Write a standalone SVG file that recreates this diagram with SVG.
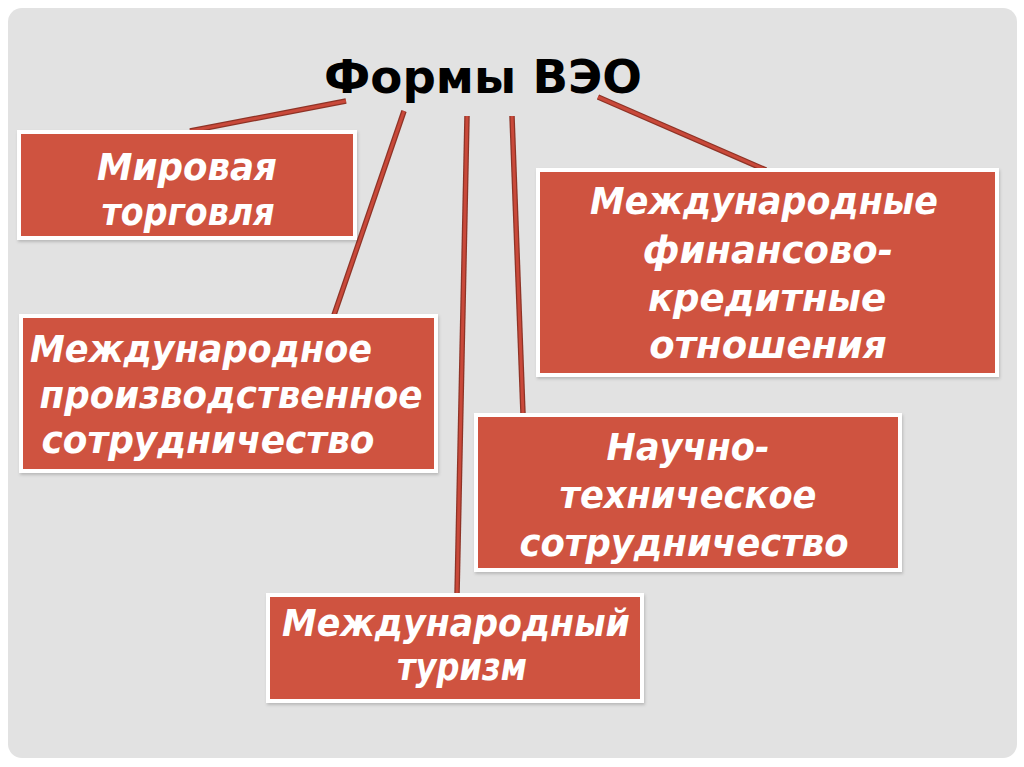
<svg xmlns="http://www.w3.org/2000/svg" width="1024" height="767" viewBox="0 0 1024 767">
<defs>
<style>
.box{fill:#cf533f;stroke:#ffffff;stroke-width:4}
.lbl{font-family:"DejaVu Sans","Liberation Sans",sans-serif;font-weight:bold;font-style:italic;font-size:37px;fill:#ffffff;text-anchor:middle}
.title{font-family:"DejaVu Sans","Liberation Sans",sans-serif;font-weight:bold;font-size:46px;fill:#000000;text-anchor:middle}
.cO{stroke:#8e3326;stroke-width:5.5;stroke-linecap:butt;fill:none}
.cI{stroke:#c9493a;stroke-width:3;stroke-linecap:butt;fill:none}
</style>
<filter id="sh" x="-5%" y="-5%" width="110%" height="115%">
<feDropShadow dx="1" dy="2" stdDeviation="1.5" flood-color="#000" flood-opacity="0.18"/>
</filter>
</defs>
<rect x="0" y="0" width="1024" height="767" fill="#ffffff"/>
<rect x="8" y="8" width="1009" height="750" rx="14" fill="#e2e2e2"/>
<text class="title" x="483" y="93" textLength="318" lengthAdjust="spacingAndGlyphs">Формы  ВЭО</text>
<g id="connectors">
<path class="cO" d="M346 101 L190 131"/>
<path class="cI" d="M346 101 L190 131"/>
<path class="cO" d="M404 111 L334 315"/>
<path class="cI" d="M404 111 L334 315"/>
<path class="cO" d="M467 116 L457 595"/>
<path class="cI" d="M467 116 L457 595"/>
<path class="cO" d="M512 116 L523 414"/>
<path class="cI" d="M512 116 L523 414"/>
<path class="cO" d="M598 97 L766 170"/>
<path class="cI" d="M598 97 L766 170"/>
</g>
<g id="n1">
<rect class="box" x="19" y="132" width="336" height="106" filter="url(#sh)"/>
<text class="lbl" x="187" y="180" textLength="180" lengthAdjust="spacingAndGlyphs">Мировая</text>
<text class="lbl" x="188" y="225" textLength="173" lengthAdjust="spacingAndGlyphs">торговля</text>
</g>
<g id="n2">
<rect class="box" x="21" y="316" width="415" height="155" filter="url(#sh)"/>
<text class="lbl" x="201" y="362" textLength="342" lengthAdjust="spacingAndGlyphs">Международное</text>
<text class="lbl" x="231" y="408" textLength="383" lengthAdjust="spacingAndGlyphs">производственное</text>
<text class="lbl" x="208" y="453" textLength="333" lengthAdjust="spacingAndGlyphs">сотрудничество</text>
</g>
<g id="n3">
<rect class="box" x="538" y="170" width="459" height="205" filter="url(#sh)"/>
<text class="lbl" x="764" y="214" textLength="348" lengthAdjust="spacingAndGlyphs">Международные</text>
<text class="lbl" x="768" y="263">финансово-</text>
<text class="lbl" x="767" y="311">кредитные</text>
<text class="lbl" x="768" y="358">отношения</text>
</g>
<g id="n4">
<rect class="box" x="476" y="415" width="424" height="155" filter="url(#sh)"/>
<text class="lbl" x="688" y="460" textLength="163" lengthAdjust="spacingAndGlyphs">Научно-</text>
<text class="lbl" x="688" y="508" textLength="257" lengthAdjust="spacingAndGlyphs">техническое</text>
<text class="lbl" x="684" y="556" textLength="329" lengthAdjust="spacingAndGlyphs">сотрудничество</text>
</g>
<g id="n5">
<rect class="box" x="268" y="595" width="374" height="106" filter="url(#sh)"/>
<text class="lbl" x="456" y="636" textLength="348" lengthAdjust="spacingAndGlyphs">Международный</text>
<text class="lbl" x="462" y="680" textLength="130" lengthAdjust="spacingAndGlyphs">туризм</text>
</g>
</svg>
